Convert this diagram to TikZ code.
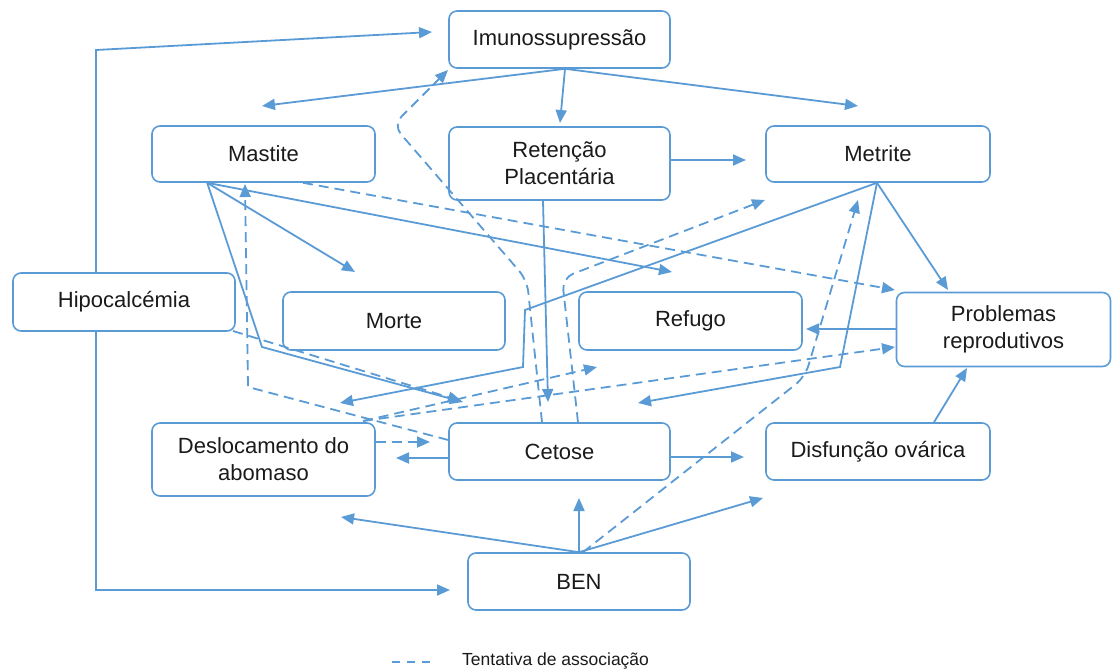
\documentclass[tikz,border=0pt]{standalone}
\usepackage{fontspec}
\setmainfont{Liberation Sans}
\usetikzlibrary{arrows.meta}
\definecolor{lb}{RGB}{91,155,213}
\definecolor{tx}{RGB}{26,26,26}
\begin{document}
\begin{tikzpicture}[x=1pt,y=-1pt,
  box/.style={draw=lb, line width=1.6pt, rounded corners=8pt, align=center, text=tx,
              font=\fontsize{22}{27}\selectfont, inner sep=0pt},
  conn/.style={draw=lb, line width=1.8pt, -{Triangle[length=13pt,width=11pt]}},
  assoc/.style={conn, dash pattern=on 10pt off 6pt},
  softturn/.style={rounded corners=12pt},
]
\useasboundingbox (0,0) rectangle (1112,672);

% ---------- nodes ----------
\node[box, minimum width=221pt, minimum height=57pt] (imu) at (559.5,39.5) {Imunossupressão};
\node[box, minimum width=223pt, minimum height=56pt] (mas) at (263.5,154) {Mastite};
\node[box, minimum width=221pt, minimum height=73pt] (ret) at (559.5,163.5) {Retenção\\Placentária};
\node[box, minimum width=224pt, minimum height=56pt] (met) at (878,154) {Metrite};
\node[box, minimum width=222pt, minimum height=58pt] (hip) at (124,302) {Hipocalcémia};
\node[box, minimum width=222pt, minimum height=58pt] (mor) at (394,321) {Morte};
\node[box, minimum width=223pt, minimum height=58pt] (ref) at (690.5,321) {Refugo};
\node[box, minimum width=214pt, minimum height=74pt] (pro) at (1003.5,329.5) {Problemas\\reprodutivos};
\node[box, minimum width=223pt, minimum height=73pt] (des) at (263.5,459.5) {Deslocamento do\\abomaso};
\node[box, minimum width=221pt, minimum height=57pt] (cet) at (559.5,451.5) {Cetose};
\node[box, minimum width=224pt, minimum height=57pt] (dis) at (878,451.5) {Disfunção ovárica};
\node[box, minimum width=222pt, minimum height=57pt] (ben) at (579,581.5) {BEN};

% ---------- attachment points and free ends ----------
\path (hip.north) ++(-28,0) coordinate (hipN);
\path (hip.south) ++(-28,0) coordinate (hipS);
\coordinate (hipNc) at (96,50);
\coordinate (imuIn) at (432,32);
\coordinate (hipSc) at (96,590);
\coordinate (benIn) at (450,590);

\path (imu.south) ++(5.5,0) coordinate (imuS);
\coordinate (toMas) at (262,106);
\coordinate (toRet) at (560,123);
\coordinate (toMet) at (858,106);

\path (ret.east) ++(0,-3.5) coordinate (retE);
\coordinate (toMet2) at (746,160);
\path (ret.south) ++(-16.5,0) coordinate (retS);
\coordinate (toCet1) at (548,402);

\path (mas.south west) ++(56,0) coordinate (masS);
\coordinate (toMor) at (355,272);
\coordinate (toRef) at (672,272);
\coordinate (masC) at (262,347);
\coordinate (toCet2) at (463,402);

\path (met.south) ++(-1,0) coordinate (metS);
\coordinate (toPro) at (948,290);
\coordinate (metC1) at (525,310);
\coordinate (metC2) at (523,367);
\coordinate (toDes) at (340,403);
\coordinate (metC3) at (840,367);
\coordinate (toCet3) at (638,403);

\path (pro.west) ++(0,-0.5) coordinate (proW);
\coordinate (toRef2) at (806,329);
\path (dis.north) ++(56,0) coordinate (disN);
\coordinate (toPro2) at (967,368);
\path (cet.east) ++(0,5.5) coordinate (cetE);
\coordinate (toDis) at (744,457);
\path (cet.west) ++(0,6.5) coordinate (cetW);
\coordinate (toDes2) at (396,458);

\coordinate (benN) at (ben.north);
\coordinate (toDes3) at (341,517);
\coordinate (toCet4) at (579,498);
\coordinate (toDis2) at (763,498);

% dashed
\path (cet.north) ++(-17.5,0) coordinate (cetN1);
\coordinate (d1a) at (527,280);
\coordinate (d1b) at (393,125);
\coordinate (toImu) at (448,70);
\path (cet.north) ++(18.5,0) coordinate (cetN2);
\coordinate (d2a) at (562,278);
\coordinate (toMet3) at (765,200);
\path (mas.south) ++(39.5,0) coordinate (masS2);
\coordinate (toPro3) at (895,290);
\coordinate (hipSE) at (233,331);
\coordinate (toCet5) at (461,401);
\path (cet.west) ++(0,-11.5) coordinate (cetW2);
\coordinate (d5a) at (248,387);
\coordinate (toMas2) at (245,184);
\path (des.east) ++(0,-17.5) coordinate (desE);
\coordinate (toCet6) at (430,442);
\coordinate (desNE) at (363,421);
\coordinate (toRef3) at (597,367);
\coordinate (toPro4) at (895,347);
\path (ben.north) ++(4,0) coordinate (benN2);
\coordinate (d9a) at (805,377);
\coordinate (toMet4) at (858,200);

% ---------- solid connectors ----------
\draw[conn] (hipN) -- (hipNc) -- (imuIn);
\draw[conn] (hipS) -- (hipSc) -- (benIn);
\draw[conn] (imuS) -- (toMas);
\draw[conn] (imuS) -- (toRet);
\draw[conn] (imuS) -- (toMet);
\draw[conn] (retE) -- (toMet2);
\draw[conn] (retS) -- (toCet1);
\draw[conn] (masS) -- (toMor);
\draw[conn] (masS) -- (toRef);
\draw[conn] (masS) -- (masC) -- (toCet2);
\draw[conn] (metS) -- (toPro);
\draw[conn] (metS) -- (metC1) -- (metC2) -- (toDes);
\draw[conn] (metS) -- (metC3) -- (toCet3);
\draw[conn] (proW) -- (toRef2);
\draw[conn] (disN) -- (toPro2);
\draw[conn] (cetE) -- (toDis);
\draw[conn] (cetW) -- (toDes2);
\draw[conn] (benN) -- (toDes3);
\draw[conn] (benN) -- (toCet4);
\draw[conn] (benN) -- (toDis2);

% ---------- dashed connectors ----------
\draw[assoc, softturn] (cetN1) -- (d1a) -- (d1b) -- (toImu);
\draw[assoc, softturn] (cetN2) -- (d2a) -- (toMet3);
\draw[assoc] (masS2) -- (toPro3);
\draw[assoc] (hipSE) -- (toCet5);
\draw[assoc] (cetW2) -- (d5a) -- (toMas2);
\draw[assoc] (desE) -- (toCet6);
\draw[assoc] (desNE) -- (toRef3);
\draw[assoc] (desNE) -- (toPro4);
\draw[assoc, softturn] (benN2) -- (d9a) -- (toMet4);

% ---------- legend ----------
\coordinate (legA) at (392,662);
\coordinate (legB) at (430,662);
\draw[lb, line width=1.5pt, dash pattern=on 8pt off 7pt] (legA) -- (legB);
\node[anchor=west, text=tx, font=\fontsize{17.5}{20}\selectfont, inner sep=0pt] (leg) at (462,661) {Tentativa de associação};
\end{tikzpicture}
\end{document}
